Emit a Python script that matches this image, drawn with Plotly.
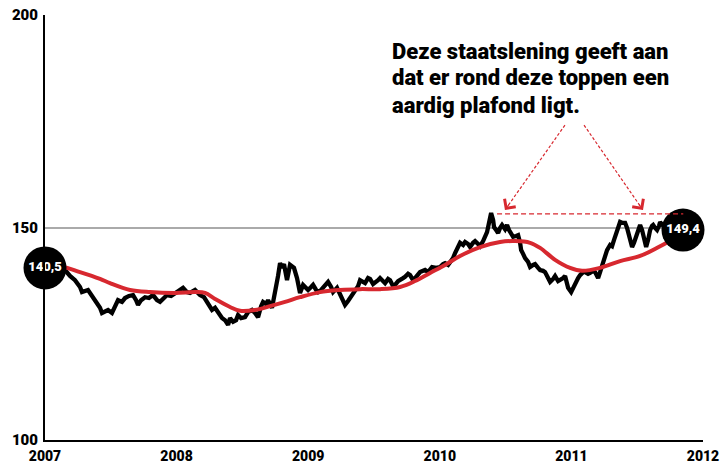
import plotly.graph_objects as go

# Black series: time (decimal year) and value
t_black = [2007.015, 2007.076, 2007.114, 2007.152, 2007.190, 2007.228, 2007.266, 2007.281, 2007.327, 2007.380,
           2007.418, 2007.433, 2007.464, 2007.479, 2007.509, 2007.532, 2007.555, 2007.585, 2007.608, 2007.638,
           2007.669, 2007.692, 2007.707, 2007.730, 2007.760, 2007.790, 2007.821, 2007.851, 2007.874, 2007.904,
           2007.927, 2007.958, 2007.988, 2008.018, 2008.049, 2008.079, 2008.102, 2008.140, 2008.178, 2008.208,
           2008.231, 2008.254, 2008.269, 2008.292, 2008.315, 2008.345, 2008.368, 2008.391, 2008.406, 2008.429,
           2008.452, 2008.467, 2008.490, 2008.520, 2008.543, 2008.573, 2008.596, 2008.619, 2008.642, 2008.657,
           2008.680, 2008.695, 2008.725, 2008.740, 2008.756, 2008.771, 2008.786, 2008.801, 2008.816, 2008.839,
           2008.862, 2008.877, 2008.892, 2008.915, 2008.938, 2008.961, 2008.984, 2008.999, 2009.022, 2009.037,
           2009.060, 2009.075, 2009.098, 2009.113, 2009.136, 2009.151, 2009.174, 2009.189, 2009.219, 2009.242,
           2009.257, 2009.280, 2009.303, 2009.318, 2009.341, 2009.356, 2009.379, 2009.394, 2009.417, 2009.432,
           2009.455, 2009.470, 2009.493, 2009.508, 2009.531, 2009.546, 2009.569, 2009.584, 2009.607, 2009.622,
           2009.645, 2009.660, 2009.683, 2009.698, 2009.721, 2009.736, 2009.759, 2009.774, 2009.797, 2009.812,
           2009.835, 2009.850, 2009.873, 2009.888, 2009.911, 2009.941, 2009.972, 2010.002, 2010.025, 2010.040,
           2010.063, 2010.078, 2010.101, 2010.116, 2010.139, 2010.154, 2010.177, 2010.192, 2010.215, 2010.230,
           2010.253, 2010.268, 2010.291, 2010.306, 2010.329, 2010.344, 2010.359, 2010.367, 2010.382, 2010.390,
           2010.405, 2010.412, 2010.428, 2010.443, 2010.458, 2010.473, 2010.496, 2010.511, 2010.526, 2010.534,
           2010.557, 2010.580, 2010.595, 2010.610, 2010.618, 2010.633, 2010.648, 2010.671, 2010.686, 2010.709,
           2010.724, 2010.747, 2010.762, 2010.785, 2010.800, 2010.823, 2010.838, 2010.861, 2010.876, 2010.899,
           2010.914, 2010.937, 2010.952, 2010.967, 2010.975, 2010.998, 2011.013, 2011.028, 2011.051, 2011.066,
           2011.089, 2011.104, 2011.127, 2011.142, 2011.165, 2011.180, 2011.195, 2011.203, 2011.218, 2011.233,
           2011.256, 2011.271, 2011.294, 2011.309, 2011.324, 2011.340, 2011.355, 2011.370, 2011.385, 2011.408,
           2011.423, 2011.431, 2011.446, 2011.461, 2011.476, 2011.492, 2011.507, 2011.522, 2011.537, 2011.545,
           2011.560, 2011.568, 2011.583, 2011.598, 2011.613, 2011.621, 2011.636, 2011.651, 2011.666, 2011.674,
           2011.697, 2011.712, 2011.735, 2011.750, 2011.788, 2011.826]
v_black = [140.5, 139.5, 140.0, 140.0, 138.6, 137.6, 136.0, 134.8, 135.3, 132.9,
           131.1, 129.9, 130.4, 130.6, 129.9, 131.5, 132.9, 132.5, 133.4, 133.9,
           134.1, 132.9, 131.8, 132.9, 133.6, 133.4, 134.1, 132.9, 132.5, 133.4,
           134.1, 133.9, 134.6, 135.1, 135.8, 134.8, 134.6, 135.3, 134.1, 133.6,
           132.5, 131.5, 130.6, 131.1, 130.1, 128.7, 128.2, 127.1, 128.7, 127.8,
           128.2, 129.4, 128.7, 128.9, 130.1, 130.6, 129.9, 128.9, 131.5, 132.5,
           132.0, 132.9, 131.1, 133.4, 135.3, 138.6, 141.6, 140.5, 141.4, 137.6,
           141.2, 140.9, 140.5, 138.1, 134.6, 136.5, 135.8, 135.3, 136.0, 136.5,
           135.3, 134.8, 135.3, 135.8, 136.7, 137.2, 136.0, 134.8, 135.8, 134.4,
           133.4, 131.8, 132.7, 133.4, 134.4, 134.8, 136.2, 137.6, 137.2, 136.9,
           138.1, 137.9, 136.7, 137.2, 137.6, 138.1, 137.2, 136.9, 137.9, 137.6,
           136.2, 136.5, 137.4, 137.6, 138.1, 138.4, 139.1, 138.8, 137.6, 138.1,
           138.8, 139.5, 139.8, 140.0, 139.5, 140.7, 140.5, 140.7, 141.4, 141.6,
           141.2, 141.9, 142.8, 144.0, 145.4, 146.4, 145.9, 146.6, 146.1, 145.4,
           146.4, 146.8, 146.1, 145.6, 146.8, 147.8, 148.9, 150.1, 152.0, 153.4,
           151.8, 150.1, 149.4, 148.7, 149.9, 150.6, 149.6, 150.6, 149.4, 148.9,
           147.8, 148.0, 148.2, 146.4, 144.7, 143.8, 142.8, 141.9, 140.7, 141.2,
           141.4, 140.5, 140.0, 139.8, 139.5, 138.1, 137.2, 137.9, 138.6, 137.4,
           137.6, 138.1, 138.6, 136.9, 135.8, 134.8, 135.8, 136.9, 138.1, 138.8,
           139.5, 139.5, 139.1, 139.3, 139.8, 139.5, 138.8, 138.1, 139.5, 141.2,
           143.1, 144.7, 145.9, 145.6, 147.1, 148.5, 150.1, 151.3, 151.1, 151.1,
           149.9, 148.7, 147.1, 145.4, 146.4, 147.8, 149.4, 150.6, 149.4, 148.2,
           146.6, 145.4, 147.1, 149.4, 150.4, 150.6, 149.9, 149.4, 150.4, 151.3,
           150.4, 150.6, 150.8, 150.6, 149.9, 149.4]

# Red smoothed series
t_red = [2007.000, 2007.114, 2007.266, 2007.418, 2007.494, 2007.646, 2007.798, 2007.988, 2008.140, 2008.216,
         2008.292, 2008.406, 2008.482, 2008.596, 2008.710, 2008.824, 2008.938, 2009.090, 2009.242, 2009.394,
         2009.546, 2009.698, 2009.812, 2009.926, 2010.040, 2010.154, 2010.306, 2010.458, 2010.572, 2010.686,
         2010.762, 2010.876, 2010.990, 2011.081, 2011.218, 2011.370, 2011.522, 2011.674, 2011.788, 2011.849]
v_red = [140.5, 140.9, 139.5, 137.9, 136.9, 135.3, 134.8, 134.6, 134.8, 134.6,
         133.2, 131.3, 130.4, 130.6, 131.5, 132.5, 133.6, 134.8, 135.3, 135.5,
         135.5, 136.0, 137.4, 139.3, 141.2, 143.3, 145.4, 146.6, 146.8, 146.4,
         145.2, 142.4, 140.5, 139.8, 140.5, 142.1, 143.3, 145.6, 147.5, 148.5]

start_label = "140,5"
end_label = "149,4"
start_t, start_v = 2007.0, 140.5
end_t, end_v = 2011.848, 149.4
ceiling_v = 153.2
ceiling_t = [2010.435, 2011.85]

year_ticks = [2007, 2008, 2009, 2010, 2011, 2012]
y_ticks = [100, 150, 200]
note_lines = ["Deze staatslening geeft aan", "dat er rond deze toppen een", "aardig plafond ligt."]

RED = "#d7282f"
FONT = "Roboto"

W, H = 722, 466
L, R, T, B = 45, 19, 15, 26
PW, PH = W - L - R, H - T - B

fig = go.Figure()

fig.add_trace(go.Scatter(x=t_black, y=v_black, mode="lines",
                         line=dict(color="black", width=4.3), hoverinfo="skip"))
fig.add_trace(go.Scatter(x=t_red, y=v_red, mode="lines", line_shape="spline",
                         line=dict(color=RED, width=4), hoverinfo="skip"))

# dashed ceiling line
fig.add_shape(type="line", xref="x", yref="y", x0=ceiling_t[0], x1=ceiling_t[1],
              y0=ceiling_v, y1=ceiling_v, line=dict(color=RED, width=1.3, dash="5px,3px"))

# dashed arrows from note to peaks
arrows = [((2010.951, 174.1), (2010.495, 154.1), 5, -7),
          ((2011.096, 174.1), (2011.544, 154.1), -5, -7)]
for (tail, tip, ax, ay) in arrows:
    fig.add_shape(type="line", xref="x", yref="y", x0=tail[0], y0=tail[1], x1=tip[0], y1=tip[1],
                  line=dict(color=RED, width=1.2, dash="3px,2px"))
    fig.add_annotation(x=tip[0], y=tip[1], xref="x", yref="y", text="", showarrow=True,
                       ax=ax, ay=ay, arrowhead=4, arrowsize=2.2, arrowwidth=1.2, arrowcolor=RED)

# end circles
fig.add_trace(go.Scatter(x=[start_t, end_t], y=[start_v, end_v], mode="markers+text",
                         text=[start_label, end_label], textposition="middle center",
                         textfont=dict(color="white", size=13, family=FONT, weight=900),
                         marker=dict(color="black", size=43, line=dict(width=0)),
                         cliponaxis=False, hoverinfo="skip"))

# note text, one annotation per line (pixel centres converted to paper coords)
for i, line in enumerate(note_lines):
    py = 51 + 27 * i
    fig.add_annotation(x=(390 - L) / PW, y=1 - (py - T) / PH, xref="paper", yref="paper",
                       text=line, showarrow=False, xanchor="left", yanchor="middle", align="left",
                       font=dict(family=FONT, size=22, color="black", weight=900))

fig.update_layout(
    width=W, height=H, margin=dict(l=L, r=R, t=T, b=B, autoexpand=False),
    paper_bgcolor="white", plot_bgcolor="white", showlegend=False,
    xaxis=dict(range=[2007, 2012], tickvals=year_ticks, ticktext=[str(y) for y in year_ticks],
               showgrid=False, zeroline=False, showline=True, linecolor="black", linewidth=2,
               ticks="", tickfont=dict(family=FONT, size=14, color="black", weight=900),
               ticklabelstandoff=2, automargin=False, fixedrange=True),
    yaxis=dict(range=[100, 200], tickvals=y_ticks, showgrid=True, gridcolor="#aaaaaa", gridwidth=2,
               zeroline=False, showline=True, linecolor="black", linewidth=2, ticks="",
               tickfont=dict(family=FONT, size=15, color="black", weight=900),
               ticklabelstandoff=2, automargin=False, fixedrange=True),
)

fig.write_html("out.html")
